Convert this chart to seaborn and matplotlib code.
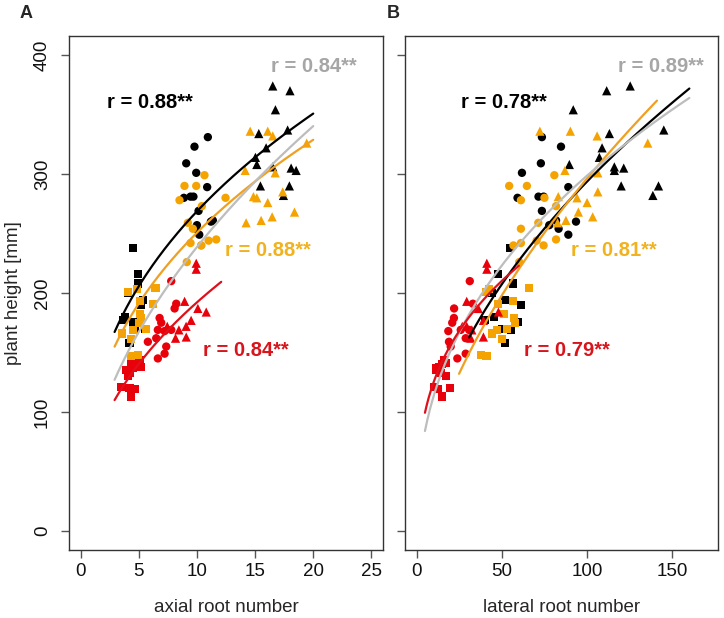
import numpy as np
import pandas as pd
import matplotlib
matplotlib.use("Agg")
import matplotlib.pyplot as plt
import seaborn as sns

# ---------------- data ----------------
# red group
red_sq_h   = [113, 121, 120, 119, 130, 133, 135, 137, 138, 141, 144, 140]
red_sq_ax  = [4.35, 3.5, 4.2, 4.64, 4.07, 4.2, 3.92, 4.5, 5.21, 4.78, 5.07, 4.35]
red_sq_lat = [14.7, 10.2, 19.6, 12.5, 17.1, 14.1, 11.5, 11.2, 13.1, 17.1, 16.0, 15.0]

red_ci_h   = [191, 187, 179, 175, 169, 169, 168, 162, 159, 155, 149, 145, 210]
red_ci_ax  = [8.22, 8.08, 6.79, 6.93, 7.79, 6.64, 7.22, 6.5, 5.78, 7.36, 7.22, 6.64, 7.79]
red_ci_lat = [33.0, 22.0, 21.9, 20.9, 30.8, 25.9, 18.6, 28.8, 19.0, 20.0, 28.8, 23.9, 31.2]

red_tr_h   = [225, 220, 193, 187, 184, 177, 172, 163, 162, 169, 172]
red_tr_ax  = [9.94, 9.94, 8.94, 10.08, 10.8, 9.5, 9.07, 9.08, 8.16, 8.45, 7.45]
red_tr_lat = [41.2, 41.2, 29.4, 36.2, 48.0, 39.2, 26.8, 39.2, 31.8, 32.4, 29.4]

# black group
blk_sq_h   = [238, 216, 208, 200, 194, 190, 180, 177, 176, 170, 169, 158]
blk_sq_ax  = [4.5, 4.92, 4.92, 4.07, 5.35, 5.2, 3.78, 3.63, 4.5, 5.5, 4.64, 4.2]
blk_sq_lat = [54.9, 47.8, 56.6, 44.0, 51.8, 61.4, 45.5, 40.0, 59.2, 50.4, 55.6, 51.8]

blk_ci_h   = [331, 323, 309, 301, 289, 280, 281, 281, 269, 261, 260, 254, 249, 257]
blk_ci_ax  = [10.94, 9.79, 9.08, 9.94, 10.88, 8.88, 9.45, 9.7, 10.14, 11.37, 11.2, 9.94, 10.2, 10.0]
blk_ci_lat = [73.5, 84.7, 72.9, 61.8, 89.0, 59.2, 71.5, 74.5, 73.5, 81.8, 93.5, 83.3, 89.0, 77.8]

blk_tr_h   = [374, 370, 354, 337, 334, 322, 314, 308, 306, 305, 303, 290, 290, 282]
blk_tr_ax  = [16.52, 18.0, 16.75, 17.8, 15.32, 15.95, 15.03, 15.15, 16.52, 18.1, 18.53, 15.46, 17.95, 17.44]
blk_tr_lat = [125.3, 111.5, 91.9, 145.0, 113.1, 108.8, 107.2, 89.6, 116.0, 121.5, 116.0, 120.0, 141.9, 138.6]

# orange group
org_sq_h   = [201, 203, 204, 193, 191, 182, 179, 175, 170, 166, 161, 169, 147, 148]
org_sq_ax  = [4.07, 4.84, 6.44, 5.13, 6.21, 5.07, 5.21, 5.01, 5.64, 3.58, 4.35, 4.5, 4.35, 4.92]
org_sq_lat = [40.6, 42.5, 66.0, 56.8, 47.8, 51.4, 57.2, 57.8, 53.0, 44.1, 50.0, 47.0, 41.0, 38.0]

org_ci_h   = [299, 290, 290, 278, 280, 273, 259, 254, 242, 240, 244, 245, 226, 240]
org_ci_ax  = [10.65, 8.93, 9.94, 8.5, 12.46, 10.42, 9.22, 9.65, 9.45, 10.37, 11.0, 11.66, 9.13, 10.37]
org_ci_lat = [80.8, 54.3, 64.7, 61.2, 75.0, 81.8, 71.4, 61.2, 61.2, 56.8, 70.4, 81.8, 60.2, 74.5]

org_tr_h   = [336, 336, 332, 326, 303, 301, 285, 281, 280, 276, 268, 259, 261, 264]
org_tr_ax  = [14.58, 16.09, 16.52, 19.44, 14.15, 16.73, 17.38, 14.86, 15.15, 16.09, 18.39, 14.23, 15.52, 16.47]
org_tr_lat = [72.3, 90.2, 105.9, 135.6, 87.0, 106.3, 106.3, 83.1, 94.1, 100.0, 94.9, 82.7, 87.6, 103.3]

# power-law fit curves  height = a * x ** b, drawn from x_from to x_to
fit_groups = ["black", "orange", "gray", "red"]
fitA_a    = [110.7, 101.9, 73.4, 67.7]
fitA_b    = [0.385, 0.391, 0.512, 0.453]
fitA_from = [2.92, 2.92, 2.92, 2.92]
fitA_to   = [20.0, 20.0, 20.0, 12.09]
fitB_a    = [29.1, 20.4, 43.05, 59.5]
fitB_b    = [0.502, 0.581, 0.4206, 0.3226]
fitB_from = [30.8, 24.9, 4.9, 4.9]
fitB_to   = [160.0, 141.0, 160.0, 60.0]

# correlation labels
r_labels_A = ["r = 0.88**", "r = 0.88**", "r = 0.84**", "r = 0.84**"]
r_labels_B = ["r = 0.78**", "r = 0.81**", "r = 0.89**", "r = 0.79**"]
r_pos_A = [(2.3, 360), (12.4, 236), (16.4, 390), (10.5, 152)]
r_pos_B = [(26.0, 360), (90.8, 236), (118.0, 390), (63.0, 152)]

# ---------------- styling ----------------
point_colors = {"black": "#000000", "orange": "#F5A300", "red": "#E8000B"}
line_colors = {"black": "#000000", "orange": "#F0A020", "gray": "#BDBDBD", "red": "#E0101A"}
text_colors = {"black": "#000000", "orange": "#F2B21E", "gray": "#A6A6A6", "red": "#D8141C"}
markers = {"square": "s", "circle": "o", "triangle": "^"}
sizes = {"square": 34, "circle": 36, "triangle": 44}

rows = []
def add(color, shape, h, ax_, lat):
    for a, b, c in zip(h, ax_, lat):
        rows.append(dict(color=color, shape=shape, height=a, axial=b, lateral=c))

add("red", "square", red_sq_h, red_sq_ax, red_sq_lat)
add("red", "circle", red_ci_h, red_ci_ax, red_ci_lat)
add("red", "triangle", red_tr_h, red_tr_ax, red_tr_lat)
add("black", "square", blk_sq_h, blk_sq_ax, blk_sq_lat)
add("black", "circle", blk_ci_h, blk_ci_ax, blk_ci_lat)
add("black", "triangle", blk_tr_h, blk_tr_ax, blk_tr_lat)
add("orange", "square", org_sq_h, org_sq_ax, org_sq_lat)
add("orange", "circle", org_ci_h, org_ci_ax, org_ci_lat)
add("orange", "triangle", org_tr_h, org_tr_ax, org_tr_lat)
df = pd.DataFrame(rows)

sns.set_style("ticks")
plt.rcParams["font.family"] = ["Liberation Sans", "DejaVu Sans"]

fig = plt.figure(figsize=(7.24, 6.18), dpi=100)
W, H = 724, 618
axA = fig.add_axes([69 / W, 68 / H, 314 / W, 514 / H])
axB = fig.add_axes([405 / W, 68 / H, 313 / W, 514 / H])

def draw(ax, xcol, fa, fb, ffrom, fto, labels, pos):
    for shape in ["square", "circle", "triangle"]:
        sub = df[df["shape"] == shape]
        sns.scatterplot(data=sub, x=xcol, y="height", hue="color",
                        palette=point_colors, marker=markers[shape],
                        s=sizes[shape], linewidth=0, legend=False, ax=ax, zorder=2)
    for g, a, b, x0, x1 in zip(fit_groups, fa, fb, ffrom, fto):
        xs = np.linspace(x0, x1, 200)
        sns.lineplot(x=xs, y=a * xs ** b, color=line_colors[g], lw=1.6,
                     ax=ax, zorder=3, sort=False)
    for g, t, (x, y) in zip(fit_groups, labels, pos):
        ax.text(x, y, t, color=text_colors[g], fontsize=14.5, fontweight="bold",
                ha="left", va="center")

draw(axA, "axial", fitA_a, fitA_b, fitA_from, fitA_to, r_labels_A, r_pos_A)
draw(axB, "lateral", fitB_a, fitB_b, fitB_from, fitB_to, r_labels_B, r_pos_B)

axA.set_xlim(-1, 26)
axB.set_xlim(-6.8, 176.8)
for ax in (axA, axB):
    ax.set_ylim(-16, 416)
    ax.set_yticks([0, 100, 200, 300, 400])
    for s in ax.spines.values():
        s.set_color("#333333")
        s.set_linewidth(1.0)
        s.set_visible(True)
    ax.tick_params(axis="both", direction="out", length=6, width=1.0,
                   color="#555555", labelsize=13.5, labelcolor="#111111")
    ax.tick_params(axis="x", pad=3.5)
    ax.tick_params(axis="y", pad=7)

axA.set_xticks([0, 5, 10, 15, 20, 25])
axB.set_xticks([0, 50, 100, 150])
axB.set_yticklabels([])
for lab in axA.get_yticklabels():
    lab.set_rotation(90)
    lab.set_va("center")
    lab.set_ha("right")

axA.set_xlabel("axial root number", fontsize=13.5)
axB.set_xlabel("lateral root number", fontsize=13.5)
axB.set_ylabel("")
axA.set_ylabel("plant height [mm]", fontsize=13.5)
for ax in (axA, axB):
    ax.xaxis.label.set_va("center")
    ax.xaxis.set_label_coords(0.5, (550 - 607) / 514)
axA.yaxis.label.set_va("center")
axA.yaxis.set_label_coords((13 - 69) / 314, 0.5)

fig.text(26 / W, 1 - 14 / H, "A", fontsize=13, fontweight="bold", ha="center", va="center")
fig.text(393.5 / W, 1 - 14 / H, "B", fontsize=13, fontweight="bold", ha="center", va="center")

fig.savefig("out.png", dpi=100)
